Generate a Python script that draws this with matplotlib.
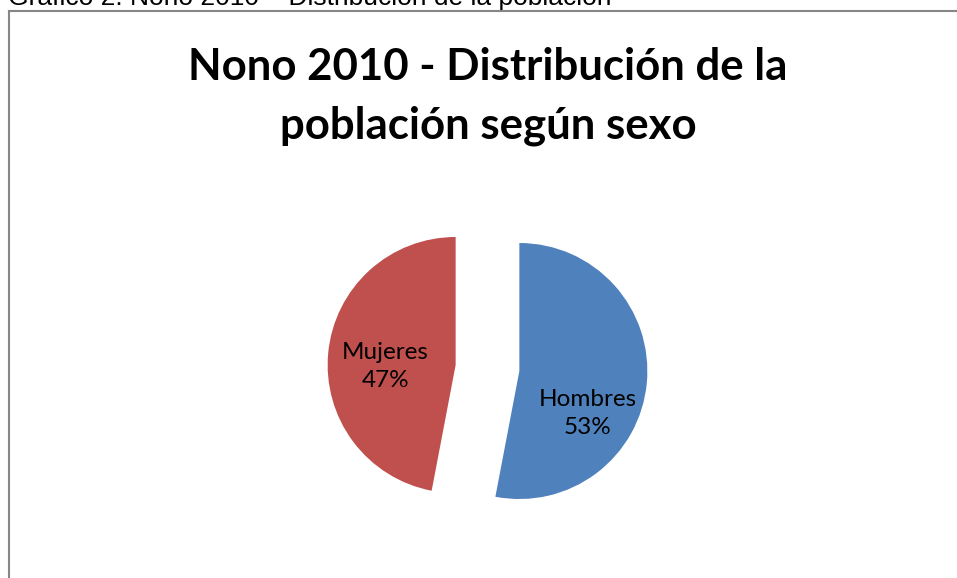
import matplotlib.pyplot as plt
import numpy as np

categorias = ['Hombres', 'Mujeres']
porcentajes = [53, 47]
colores = ['#4F81BD', '#C0504D']
titulo = ['Nono 2010 - Distribución de la', 'población según sexo']
encabezado = 'Gráfico 2: Nono 2010 \u2013 Distribución de la población'

W, H = 957, 578
R = 128
fig = plt.figure(figsize=(W / 100, H / 100), dpi=100)
ax = fig.add_axes([0, 0, 1, 1])

# pie in pixel coordinates (y up); explode is in data units here
wedges, _ = ax.pie(porcentajes, colors=colores, startangle=90, counterclock=False,
                   explode=[0.25 * R, 0.25 * R], center=(487.5, H - 368), radius=R,
                   wedgeprops=dict(linewidth=0))

# label placement relative to each exploded wedge (angle deg, fraction of radius)
lab_pos = [(-32, 0.63), (181, 0.55)]
for w, cat, p, (ang, fr) in zip(wedges, categorias, porcentajes, lab_pos):
    cx, cy = w.center
    a = np.deg2rad(ang)
    ax.text(cx + fr * w.r * np.cos(a), cy + fr * w.r * np.sin(a), f'{cat}\n{p}%',
            ha='center', va='center', fontsize=17.5, family='Lato',
            linespacing=1.4, color='black')

ax.text(488, H - 80, titulo[0], ha='center', va='baseline', fontsize=31.5,
        fontweight='bold', family='Lato')
ax.text(488, H - 139, titulo[1], ha='center', va='baseline', fontsize=31.5,
        fontweight='bold', family='Lato')

# header text cut off at the top of the image
ax.text(8, H - 5, encabezado, ha='left', va='baseline', fontsize=19,
        family='Liberation Sans')

# chart frame
ax.plot([8.5, 8.5], [-2, H - 10.5], color='#868686', lw=1.5)
ax.plot([8.5, W + 2], [H - 10.5, H - 10.5], color='#868686', lw=1.5)

ax.set_xlim(0, W)
ax.set_ylim(0, H)
ax.set_aspect('auto')
ax.axis('off')
fig.savefig('out.png', dpi=100)
